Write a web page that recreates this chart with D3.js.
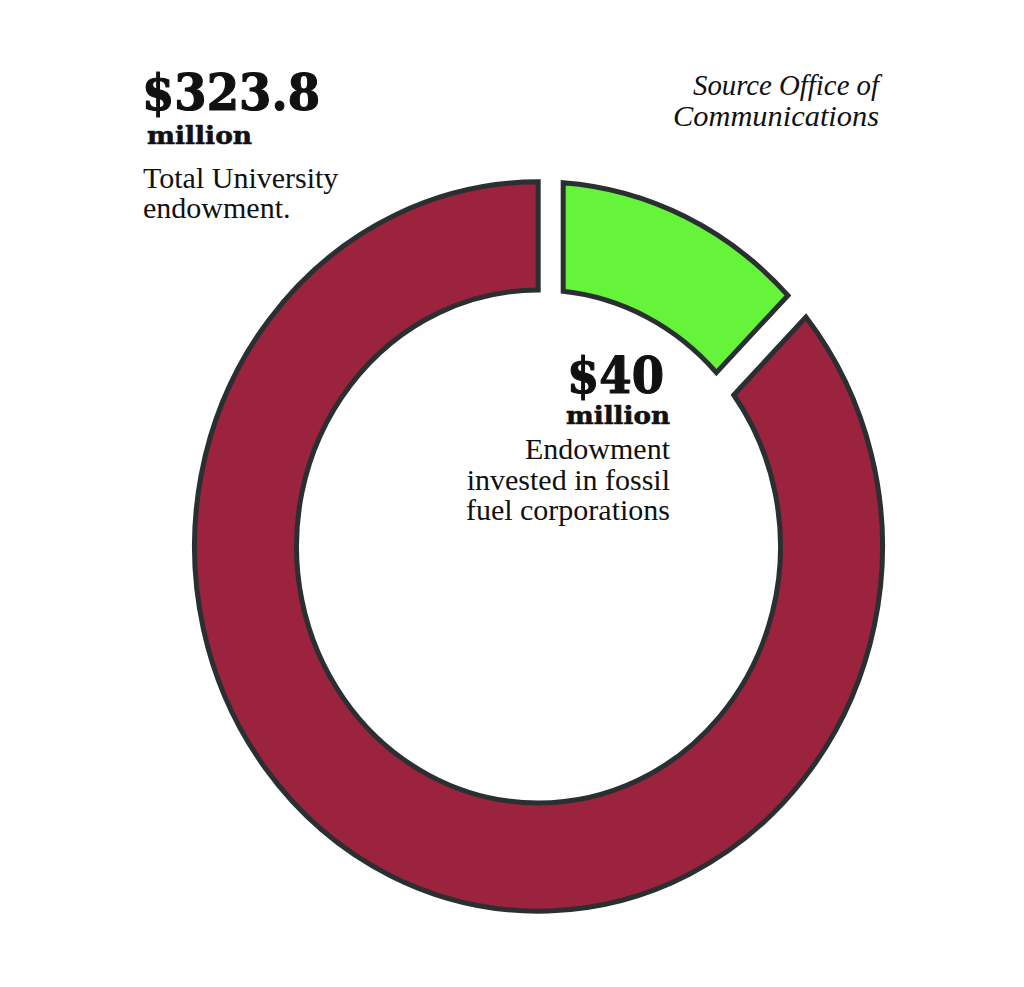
<!DOCTYPE html>
<html>
<head>
<meta charset="utf-8">
<script src="https://cdn.jsdelivr.net/npm/d3@7/dist/d3.min.js"></script>
<style>
  html, body { margin: 0; padding: 0; background: #ffffff; }
  svg { display: block; }
</style>
</head>
<body>
<svg id="chart" width="1024" height="987"></svg>
<script>
// ---- data ----
const categories = ["Endowment invested in fossil fuel corporations", "Rest of University endowment"];
const values = [40, 283.8];            // $ million
const totalValue = 323.8;              // $ million, total endowment
const colors = ["#66f43b", "#9c233d"];

const totalLabel = "$323.8";
const totalUnit = "million";
const totalText = ["Total University", "endowment."];

const fossilLabel = "$40";
const fossilUnit = "million";
const fossilText = ["Endowment", "invested in fossil", "fuel corporations"];

const sourceText = ["Source Office of", "Communications"];

// ---- layout ----
const W = 1024, H = 987;
const cx = 538.5, cy = 546.5, sy = 1.06;
const rOuter = 344, rInner = 242;
// slice edge offsets in px (positive = clockwise), start / end
const edgeOffsets = [[24.7, 12], [39.2, -0.3]];

const svg = d3.select("#chart");
svg.append("rect").attr("width", W).attr("height", H).attr("fill", "#fff");

const pie = d3.pie().sort(null).value(d => d);
const arcs = pie(values);

function edgePoint(a, off, r) {
  const s = Math.sqrt(r * r - off * off);
  return [s * Math.sin(a) + off * Math.cos(a), -s * Math.cos(a) + off * Math.sin(a)];
}
function sector(a0, a1, off0, off1) {
  const po0 = edgePoint(a0, off0, rOuter), po1 = edgePoint(a1, off1, rOuter);
  const pi0 = edgePoint(a0, off0, rInner), pi1 = edgePoint(a1, off1, rInner);
  const ang = p => Math.atan2(p[1], p[0]);
  const p = d3.path();
  p.moveTo(po0[0], po0[1]);
  p.arc(0, 0, rOuter, ang(po0), ang(po1), false);
  p.lineTo(pi1[0], pi1[1]);
  p.arc(0, 0, rInner, ang(pi1), ang(pi0), true);
  p.closePath();
  return p.toString();
}

const g = svg.append("g").attr("transform", `translate(${cx},${cy}) scale(1,${sy})`);
g.selectAll("path").data(arcs).join("path")
  .attr("d", (d, i) => sector(d.startAngle, d.endAngle, edgeOffsets[i][0], edgeOffsets[i][1]))
  .attr("fill", (d, i) => colors[i])
  .attr("stroke", "#2a2f31")
  .attr("stroke-width", 5)
  .attr("stroke-linejoin", "miter")
  .attr("vector-effect", "non-scaling-stroke");

// ---- text ----
const bigFont = "'DejaVu Serif', serif";
const bodyFont = "'Liberation Serif', 'Times New Roman', serif";

function heavy(sel, size, len, sw) {
  return sel.attr("font-family", bigFont).attr("font-weight", "bold").attr("font-size", size)
    .attr("textLength", len).attr("lengthAdjust", "spacingAndGlyphs")
    .attr("fill", "#111").attr("stroke", "#111").attr("stroke-width", sw)
    .attr("stroke-linejoin", "round");
}

// left block
heavy(svg.append("text").attr("x", 142).attr("y", 110), 50, 178, 1.2).text(totalLabel);
heavy(svg.append("text").attr("x", 147).attr("y", 144), 25, 105, 0.6).text(totalUnit);
svg.append("g").selectAll("text").data(totalText).join("text")
  .attr("x", 143).attr("y", (d, i) => 188 + i * 29.5)
  .attr("font-family", bodyFont).attr("font-size", 30)
  .attr("fill", "#111").text(d => d);

// right block
heavy(svg.append("text").attr("x", 664).attr("y", 393).attr("text-anchor", "end"), 50, 97, 1.2).text(fossilLabel);
heavy(svg.append("text").attr("x", 670).attr("y", 424).attr("text-anchor", "end"), 25, 104, 0.6).text(fossilUnit);
svg.append("g").selectAll("text").data(fossilText).join("text")
  .attr("x", 670).attr("y", (d, i) => 459 + i * 30.5).attr("text-anchor", "end")
  .attr("font-family", bodyFont).attr("font-size", 30)
  .attr("fill", "#111").text(d => d);

// source
const sourceLens = [186, 206];
svg.append("g").selectAll("text").data(sourceText).join("text")
  .attr("x", 879).attr("y", (d, i) => 95 + i * 31).attr("text-anchor", "end")
  .attr("font-family", bodyFont).attr("font-style", "italic").attr("font-size", 30)
  .attr("textLength", (d, i) => sourceLens[i]).attr("lengthAdjust", "spacingAndGlyphs")
  .attr("fill", "#111").text(d => d);
</script>
</body>
</html>
